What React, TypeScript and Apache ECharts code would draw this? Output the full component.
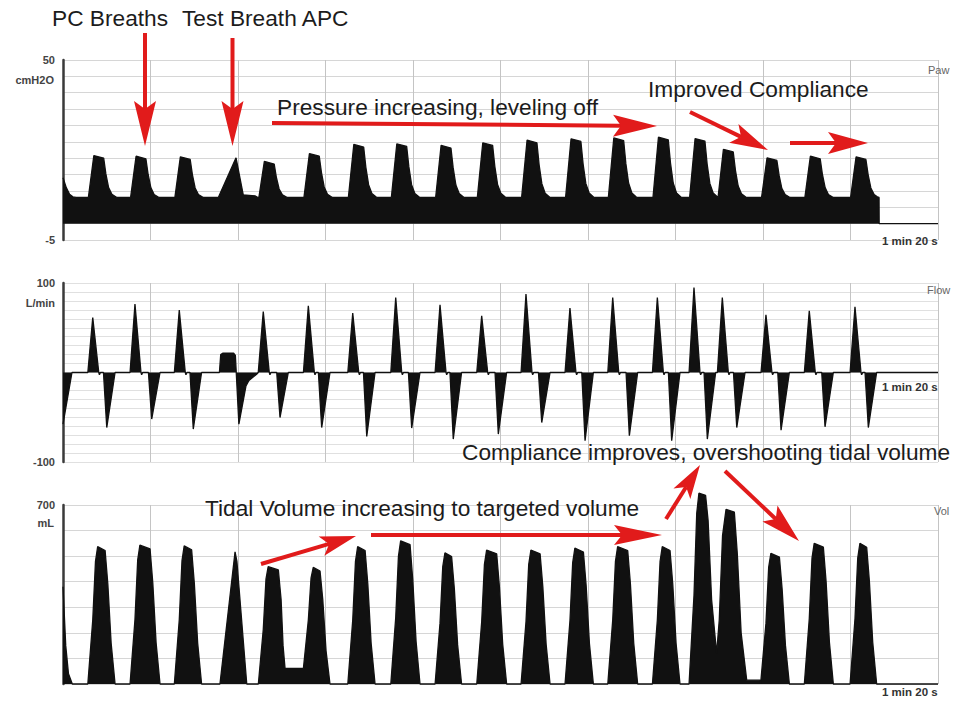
import React, { useEffect, useRef } from "react";
import * as echarts from "echarts";

// ---- Data (time in seconds, 0..80 s) ----
const xTickStep = 8;
const pawTickLabels = ["50", "-5"];
const flowTickLabels = ["100", "-100"];
const volTickLabels = ["700"];

// Airway pressure (cmH2O)
const pawPoints: number[][] = [
  [0, 14], [0.3, 11], [0.6, 9], [0.9, 8.2], [1.2, 8],
  [2.32, 8], [2.82, 20.8], [3.72, 20.0], [3.92, 15.2], [4.17, 11.0], [4.47, 9.0], [4.92, 8],
  [6.18, 8], [6.68, 20.6], [7.58, 19.8], [7.78, 15.1], [8.03, 11.0], [8.33, 8.9], [8.78, 8],
  [10.23, 8], [10.73, 20.4], [11.63, 19.6], [11.83, 15.0], [12.08, 10.9], [12.38, 8.9], [12.83, 8],
  [14.2, 8], [15.82, 20.1], [16.48, 8.8], [17.55, 8.5], [17.83, 8],
  [17.91, 8], [18.41, 19.0], [19.31, 18.2], [19.51, 14.1], [19.76, 10.6], [20.06, 8.8], [20.51, 8],
  [22.03, 8], [22.53, 21.4], [23.43, 20.6], [23.63, 15.6], [23.88, 11.2], [24.18, 9.0], [24.63, 8],
  [26.09, 8], [26.59, 24.2], [27.49, 23.4], [27.69, 17.2], [27.94, 11.9], [28.24, 9.2], [28.69, 8],
  [30.02, 8], [30.52, 24.4], [31.42, 23.6], [31.62, 17.4], [31.87, 11.9], [32.17, 9.2], [32.62, 8],
  [34.07, 8], [34.57, 23.9], [35.47, 23.1], [35.67, 17.1], [35.92, 11.8], [36.22, 9.2], [36.67, 8],
  [37.88, 8], [38.38, 24.7], [39.28, 23.9], [39.48, 17.5], [39.73, 12.0], [40.03, 9.3], [40.48, 8],
  [41.93, 8], [42.43, 25.5], [43.33, 24.7], [43.53, 18.0], [43.78, 12.2], [44.08, 9.3], [44.53, 8],
  [45.95, 8], [46.45, 25.9], [47.35, 25.1], [47.55, 18.3], [47.8, 12.3], [48.1, 9.4], [48.55, 8],
  [49.86, 8], [50.36, 26.2], [51.26, 25.4], [51.46, 18.4], [51.71, 12.4], [52.01, 9.4], [52.46, 8],
  [53.94, 8], [54.44, 26.4], [55.34, 25.6], [55.54, 18.6], [55.79, 12.4], [56.09, 9.4], [56.54, 8],
  [57.29, 8], [57.79, 26.0], [58.69, 25.2], [58.89, 18.3], [59.14, 12.3], [59.44, 9.4], [59.89, 8],
  [59.92, 8], [60.38, 22.7], [61.28, 21.9], [61.48, 16.3], [61.73, 11.5], [62.03, 9.1], [62.48, 8],
  [63.87, 8], [64.37, 20.1], [65.27, 19.3], [65.47, 14.8], [65.72, 10.8], [66.02, 8.9], [66.47, 8],
  [67.83, 8], [68.33, 20.6], [69.23, 19.8], [69.43, 15.1], [69.68, 11.0], [69.98, 8.9], [70.43, 8],
  [72.01, 8], [72.51, 20.4], [73.41, 19.6], [73.61, 15.0], [73.86, 10.9], [74.16, 8.9], [74.45, 8.2],
  [74.61, 8], [74.62, 0], [80, 0],
];

// Flow (L/min)
const flowPoints: number[][] = [
  [0, -57.7], [0.82, 0],
  [2.27, 0], [2.72, 61.5], [3.27, 0], [3.33, -2.5], [3.42, 0], [3.7, 0], [4.0, -61.5], [4.76, 0],
  [6.13, 0], [6.58, 76.4], [7.13, 0], [7.19, -2.5], [7.28, 0], [7.81, 0], [8.11, -52], [8.87, 0],
  [10.18, 0], [10.63, 69.7], [11.18, 0], [11.24, -2.5], [11.33, 0], [11.61, 0], [11.91, -63.2], [12.67, 0],
  [14.3, 0], [14.42, 20], [14.6, 21.5], [15.6, 21.5], [15.76, 19], [15.84, 0], [15.9, 0], [16.08, -57.7], [16.73, -15], [17.0, -9], [17.7, -2], [17.85, 0],
  [17.86, 0], [18.31, 68.2], [18.86, 0], [18.92, -2.5], [19.01, 0], [19.54, 0], [19.84, -50.3], [20.6, 0],
  [21.98, 0], [22.43, 74.5], [22.98, 0], [23.04, -2.5], [23.13, 0], [23.35, 0], [23.65, -61.5], [24.41, 0],
  [26.04, 0], [26.49, 66.4], [27.04, 0], [27.1, -2.5], [27.19, 0], [27.47, 0], [27.77, -71.5], [28.53, 0],
  [29.97, 0], [30.42, 83.8], [30.97, 0], [31.03, -2.5], [31.12, 0], [31.58, 0], [31.88, -62.1], [32.64, 0],
  [34.02, 0], [34.47, 75.6], [35.02, 0], [35.08, -2.5], [35.17, 0], [35.38, 0], [35.68, -74.4], [36.44, 0],
  [37.83, 0], [38.28, 63.4], [38.83, 0], [38.89, -2.5], [38.98, 0], [39.5, 0], [39.8, -68.8], [40.56, 0],
  [41.88, 0], [42.33, 87.6], [42.88, 0], [42.94, -2.5], [43.03, 0], [43.47, 0], [43.77, -55.9], [44.53, 0],
  [45.9, 0], [46.35, 72], [46.9, 0], [46.96, -2.5], [47.05, 0], [47.43, 0], [47.73, -76.3], [48.49, 0],
  [49.81, 0], [50.26, 83.8], [50.81, 0], [50.87, -2.5], [50.96, 0], [51.48, 0], [51.78, -70.7], [52.54, 0],
  [53.89, 0], [54.34, 83.8], [54.89, 0], [54.95, -2.5], [55.04, 0], [55.35, 0], [55.65, -76.3], [56.41, 0],
  [57.24, 0], [57.69, 95], [58.24, 0], [58.3, -2.5], [58.39, 0], [58.61, 0], [58.91, -74.4], [59.67, 0],
  [59.83, 0], [60.28, 83.8], [60.83, 0], [60.89, -2.5], [60.98, 0], [61.3, 0], [61.6, -61.5], [62.36, 0],
  [63.82, 0], [64.27, 64.5], [64.82, 0], [64.88, -2.5], [64.97, 0], [65.35, 0], [65.65, -64.4], [66.41, 0],
  [67.78, 0], [68.23, 69], [68.78, 0], [68.84, -2.5], [68.93, 0], [69.37, 0], [69.67, -60.7], [70.43, 0],
  [71.96, 0], [72.41, 73.4], [72.96, 0], [73.02, -2.5], [73.11, 0], [73.33, 0], [73.63, -61.5], [74.39, 0],
  [80, 0],
];

// Volume (mL)
const volPoints: number[][] = [
  [0, 380], [0.25, 150], [0.5, 40], [0.85, 0],
  [2.27, 0], [2.72, 250], [2.97, 480], [3.17, 537], [3.85, 522], [4.1, 390], [4.4, 160], [4.76, 0],
  [6.13, 0], [6.58, 252], [6.83, 486], [7.03, 543], [7.96, 528], [8.21, 395], [8.51, 162], [8.87, 0],
  [10.18, 0], [10.63, 251], [10.88, 483], [11.08, 540], [11.76, 525], [12.01, 392], [12.31, 161], [12.67, 0],
  [14.35, 0], [15.73, 517], [15.9, 480], [16.8, 0],
  [17.86, 0], [18.31, 213], [18.56, 411], [18.76, 459], [19.69, 446], [19.94, 330], [20.12, 150], [20.3, 61], [21.98, 61],
  [22.43, 250], [22.68, 415], [22.88, 456], [23.5, 442], [23.75, 330], [24.05, 130], [24.41, 0],
  [26.04, 0], [26.49, 250], [26.74, 480], [26.94, 537], [27.62, 522], [27.87, 390], [28.17, 160], [28.53, 0],
  [29.97, 0], [30.42, 260], [30.67, 500], [30.87, 560], [31.73, 545], [31.98, 406], [32.28, 167], [32.64, 0],
  [34.02, 0], [34.47, 238], [34.72, 459], [34.92, 513], [35.53, 498], [35.78, 372], [36.08, 153], [36.44, 0],
  [37.83, 0], [38.28, 243], [38.53, 468], [38.73, 524], [39.65, 509], [39.9, 380], [40.2, 156], [40.56, 0],
  [41.88, 0], [42.33, 243], [42.58, 468], [42.78, 524], [43.62, 509], [43.87, 380], [44.17, 156], [44.53, 0],
  [45.9, 0], [46.35, 247], [46.6, 475], [46.8, 531], [47.58, 516], [47.83, 385], [48.13, 158], [48.49, 0],
  [49.81, 0], [50.26, 250], [50.51, 480], [50.71, 537], [51.63, 522], [51.88, 390], [52.18, 160], [52.54, 0],
  [53.89, 0], [54.34, 250], [54.59, 480], [54.79, 537], [55.5, 522], [55.75, 390], [56.05, 160], [56.41, 0],
  [57.24, 0], [57.69, 346], [57.94, 667], [58.14, 746], [58.75, 738], [58.98, 640], [59.3, 330], [59.76, 120],
  [60.0, 250], [60.3, 580], [60.62, 683], [61.38, 672], [61.65, 510], [62.0, 200], [62.51, 15], [63.73, 15], [63.78, 0],
  [63.82, 0], [64.27, 237], [64.52, 457], [64.72, 511], [65.5, 496], [65.75, 370], [66.05, 152], [66.41, 0],
  [67.78, 0], [68.23, 255], [68.48, 492], [68.68, 550], [69.52, 535], [69.77, 400], [70.07, 164], [70.43, 0],
  [71.96, 0], [72.41, 255], [72.66, 492], [72.86, 550], [73.48, 535], [73.73, 400], [74.03, 164], [74.39, 0],
  [80, 0],
];

const FONT = "'Liberation Sans', Arial, sans-serif";
const RED = "#e11b1b";
const INK = "#1c1c1c";

function arrow(x1: number, y1: number, x2: number, y2: number, L: number, W: number) {
  const dx = x2 - x1, dy = y2 - y1;
  const len = Math.hypot(dx, dy);
  const ux = dx / len, uy = dy / len;
  const px = -uy, py = ux;
  const bx = x2 - ux * L, by = y2 - uy * L;
  const nx = x2 - ux * (L - 8), ny = y2 - uy * (L - 8);
  return [
    { type: "line", z: 100, shape: { x1, y1, x2: nx, y2: ny }, style: { stroke: RED, lineWidth: 4 } },
    {
      type: "polygon",
      z: 101,
      shape: { points: [[x2, y2], [bx + (px * W) / 2, by + (py * W) / 2], [nx, ny], [bx - (px * W) / 2, by - (py * W) / 2]] },
      style: { fill: RED },
    },
  ];
}

function txt(text: string, x: number, y: number, size: number, color: string, align = "left", weight = "normal") {
  return {
    type: "text",
    z: 100,
    x,
    y,
    style: { text, fill: color, font: `${weight} ${size}px ${FONT}`, textAlign: align, textVerticalAlign: "middle" },
  };
}

export default function App() {
  const ref = useRef<HTMLDivElement>(null);
  useEffect(() => {
    if (!ref.current) return;
    const chart = echarts.init(ref.current, null, { renderer: "svg" });
    const grids = [
      { left: 63, right: 17, top: 60, height: 180 },
      { left: 63, right: 17, top: 283, height: 179 },
      { left: 63, right: 17, top: 505, height: 179 },
    ];
    const xAxes = grids.map((_, i) => ({
      type: "value",
      gridIndex: i,
      min: 0,
      max: 80,
      interval: xTickStep,
      axisLine: { show: false },
      axisTick: { show: false },
      axisLabel: { show: false },
      splitLine: { show: true, lineStyle: { color: "#c4c4c4", width: 1 } },
    }));
    const yBase = (i: number, min: number, max: number, interval: number, labels: string[], gridColor: string) => ({
      type: "value",
      gridIndex: i,
      min,
      max,
      interval,
      axisLine: { show: true, onZero: false, lineStyle: { color: "#3a3a3a", width: 2.5 } },
      axisTick: { show: false },
      axisLabel: {
        margin: 8,
        fontSize: 11,
        fontWeight: "bold",
        color: "#444",
        fontFamily: FONT,
        formatter: (v: number) => (labels.indexOf(String(v)) >= 0 ? String(v) : ""),
      },
      splitLine: { show: true, lineStyle: { color: gridColor, width: 1 } },
    });
    const yAxes = [
      yBase(0, -5, 50, 5, pawTickLabels, "#d6d6d6"),
      yBase(1, -100, 100, 10, flowTickLabels, "#e0e0e0"),
      yBase(2, 0, 700, 100, volTickLabels, "#d6d6d6"),
    ];
    const mk = (i: number, data: number[][]) => ({
      type: "line",
      xAxisIndex: i,
      yAxisIndex: i,
      data,
      showSymbol: false,
      clip: false,
      lineStyle: { color: "#111", width: 1.3 },
      areaStyle: { color: "#111", opacity: 1, origin: "auto" },
      z: 3,
    });
    const graphic: any[] = [
      // axis units
      txt("cmH2O", 54, 80, 11, "#444", "right", "bold"),
      txt("L/min", 55, 303, 11, "#444", "right", "bold"),
      txt("mL", 54, 523, 11, "#444", "right", "bold"),
      // panel names
      txt("Paw", 928, 70, 11, "#666"),
      txt("Flow", 927, 290, 11, "#666"),
      txt("Vol", 934, 511, 11, "#666"),
      // time labels
      txt("1 min 20 s", 882, 241, 11.5, "#333", "left", "bold"),
      txt("1 min 20 s", 882, 387, 11.5, "#333", "left", "bold"),
      txt("1 min 20 s", 882, 692, 11.5, "#333", "left", "bold"),
      // annotations
      txt("PC Breaths", 52, 18, 22.7, INK),
      txt("Test Breath APC", 182, 18, 22.7, INK),
      txt("Pressure increasing, leveling off", 277, 107, 22.7, INK),
      txt("Improved Compliance", 648, 89, 22.7, INK),
      txt("Compliance improves, overshooting tidal volume", 462, 452, 22.7, INK),
      txt("Tidal Volume increasing to targeted volume", 205, 508, 22.7, INK),
      ...arrow(145, 33, 145, 146, 45, 22),
      ...arrow(232.5, 38, 232.5, 146, 45, 22),
      ...arrow(272, 123, 657, 126, 44, 22),
      ...arrow(690, 112, 768, 150, 38, 21),
      ...arrow(790, 143, 868, 143, 40, 22),
      ...arrow(261, 564, 356, 536, 36, 20),
      ...arrow(371, 535, 662, 535, 48, 20),
      ...arrow(666, 519, 700, 465, 34, 20),
      ...arrow(725, 471, 799, 541, 40, 22),
    ];
    chart.setOption({
      animation: false,
      backgroundColor: "#ffffff",
      grid: grids,
      xAxis: xAxes,
      yAxis: yAxes,
      series: [mk(0, pawPoints), mk(1, flowPoints), mk(2, volPoints)],
      graphic,
    } as any);
    return () => chart.dispose();
  }, []);
  return <div ref={ref} style={{ position: "absolute", left: 0, top: 0, width: 955, height: 703 }} />;
}
